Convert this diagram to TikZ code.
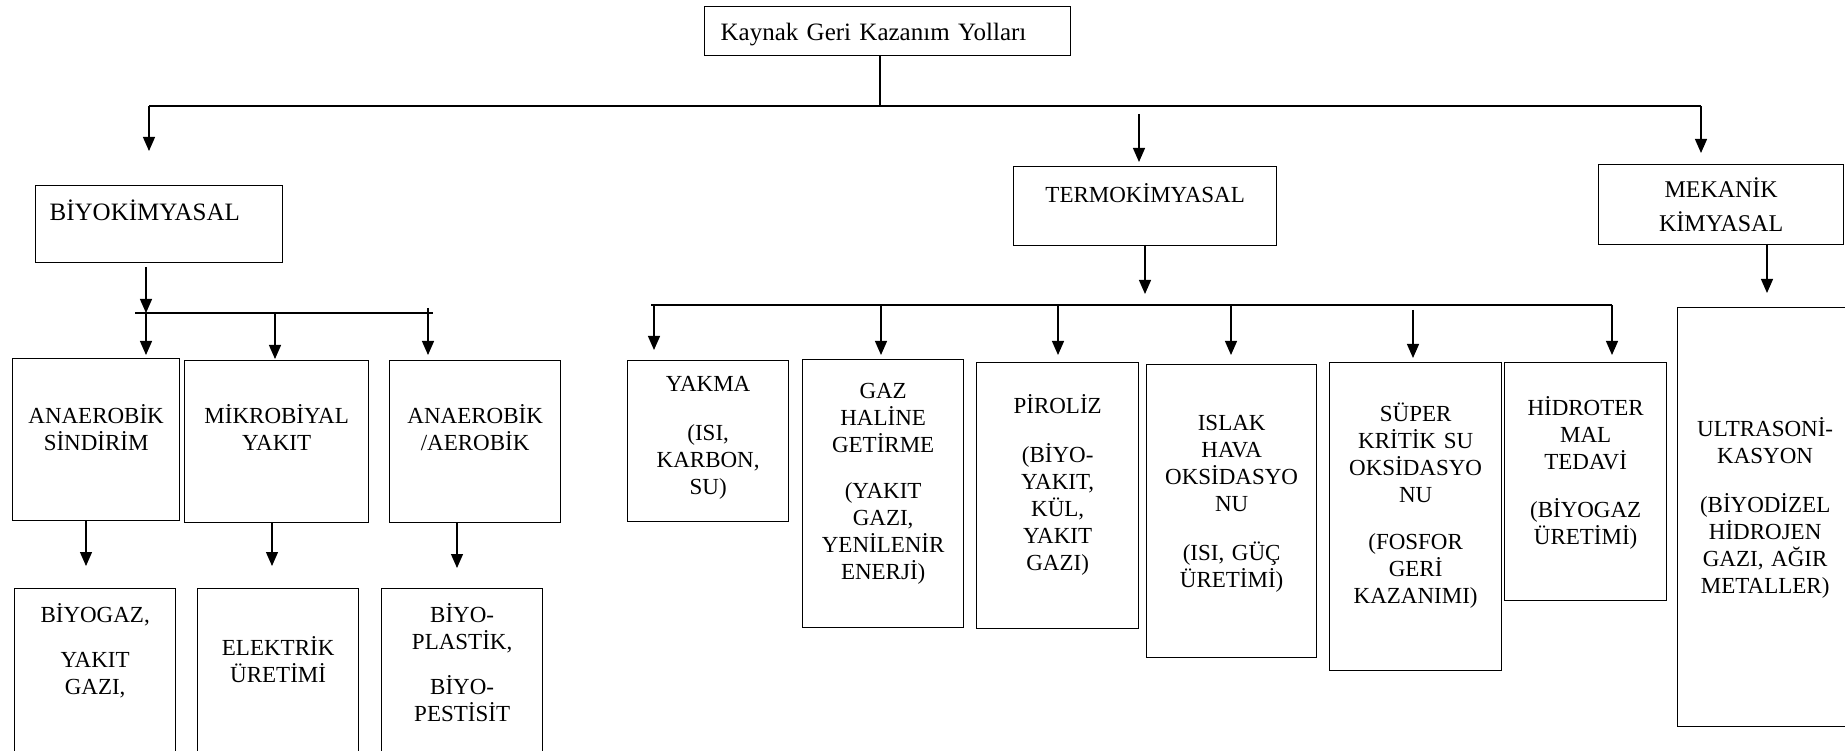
\documentclass[tikz,border=0pt]{standalone}
\usepackage{fontspec}
\setmainfont{Liberation Serif}
\usetikzlibrary{arrows.meta}

\begin{document}
\begin{tikzpicture}[x=1pt, y=-1pt,
    kutu/.style n args={3}{draw, line width=1.3pt, anchor=north west, inner sep=0pt,
        align=center, text width=#1pt, text height=#2pt, text depth=#3pt,
        font=\fontsize{23}{27}\selectfont},
    pil/.style={-{Triangle[width=12pt,length=14pt]}, line width=1.2pt},
    hat/.style={line width=1.2pt}]
        \useasboundingbox (0,0) rectangle (1845,751);
        \clip (0,0) rectangle (1845,751);

        % ust kutu
        \node[kutu={334}{34}{15}, inner xsep=16pt, align=left, font=\fontsize{25}{29}\selectfont]
            (baslik) at (704,6) {Kaynak Geri Kazanım Yolları};

        % ana dallar
        \node[kutu={219}{35}{42}, inner xsep=14pt, align=left, font=\fontsize{25}{29}\selectfont]
            (biyo) at (35,185) {BİYOKİMYASAL};
        \node[kutu={263}{36}{43}] (termo) at (1013,166) {TERMOKİMYASAL};
        \node[kutu={245}{33}{47}, font=\fontsize{24}{27}\selectfont]
            (mek) at (1598,164) {MEKANİK\\[7pt]KİMYASAL};

        % biyokimyasal yollar
        \node[kutu={167}{65}{97}] (anaer) at (12,358) {ANAEROBİK\\SİNDİRİM};
        \node[kutu={184}{63}{99}] (mikro) at (184,360) {MİKROBİYAL\\YAKIT};
        \node[kutu={171}{63}{99}] (aero) at (389,360) {ANAEROBİK\\/AEROBİK};

        \node[kutu={161}{34}{138}] (biyogaz) at (14,588) {BİYOGAZ,\\[18pt]YAKIT\\GAZI,};
        \node[kutu={161}{67}{105}] (elektrik) at (197,588) {ELEKTRİK\\ÜRETİMİ};
        \node[kutu={161}{34}{138}] (plastik) at (381,588) {BİYO-\\PLASTİK,\\[18pt]BİYO-\\PESTİSİT};

        % termokimyasal yollar
        \node[kutu={161}{31}{130}] (yakma) at (627,360) {YAKMA\\[22pt](ISI,\\KARBON,\\SU)};
        \node[kutu={161}{39}{229}] (gaz) at (802,359)
            {GAZ\\HALİNE\\GETİRME\\[19pt](YAKIT\\GAZI,\\YENİLENİR\\ENERJİ)};
        \node[kutu={162}{51}{215}] (piroliz) at (976,362)
            {PİROLİZ\\[22pt](BİYO-\\YAKIT,\\KÜL,\\YAKIT\\GAZI)};
        \node[kutu={170}{66}{227}] (islak) at (1146,364)
            {ISLAK\\HAVA\\OKSİDASYO\\NU\\[22pt](ISI, GÜÇ\\ÜRETİMİ)};
        \node[kutu={172}{59}{249}] (super) at (1329,362)
            {SÜPER\\KRİTİK SU\\OKSİDASYO\\NU\\[20pt](FOSFOR\\GERİ\\KAZANIMI)};
        \node[kutu={162}{53}{185}] (hidro) at (1504,362)
            {HİDROTER\\MAL\\TEDAVİ\\[21pt](BİYOGAZ\\ÜRETİMİ)};

        % mekanik kimyasal
        \node[kutu={175}{129}{290}] (ultra) at (1677,307)
            {ULTRASONİ-\\KASYON\\[22pt](BİYODİZEL\\HİDROJEN\\GAZI, AĞIR\\METALLER)};

        % ana hat
        \coordinate (b0) at (880,106);
        \coordinate (b1) at (149,106);
        \coordinate (b2) at (1139,114);
        \coordinate (b3) at (1701,106);
        \draw[hat] (b1) -- (b3);
        \draw[hat] (baslik.south -| b0) -- (b0);
        \draw[pil, shorten >=34pt] (b1) -- (b1 |- biyo.north);
        \draw[pil, shorten >=4pt] (b2) -- (b2 |- termo.north);
        \draw[pil, shorten >=11pt] (b3) -- (b3 |- mek.north);

        % biyokimyasal hat
        \coordinate (s0) at (146,267);
        \coordinate (s1) at (146,313);
        \coordinate (s2) at (275,313);
        \coordinate (s3) at (428,308);
        \draw[pil] (s0) -- (s1);
        \draw[hat] (135,313) -- (433,313);
        \draw[pil, shorten >=3pt] (s1) -- (s1 |- anaer.north);
        \draw[pil, shorten >=1pt] (s2) -- (s2 |- mikro.north);
        \draw[pil, shorten >=5pt] (s3) -- (s3 |- aero.north);

        \coordinate (u1) at (86,520);
        \coordinate (u2) at (272,522);
        \coordinate (u3) at (457,522);
        \draw[pil, shorten >=22pt] (u1) -- (u1 |- biyogaz.north);
        \draw[pil, shorten >=22pt] (u2) -- (u2 |- elektrik.north);
        \draw[pil, shorten >=20pt] (u3) -- (u3 |- plastik.north);

        % termokimyasal hat
        \coordinate (t0) at (1145,245);
        \coordinate (t1) at (654,305);
        \coordinate (t2) at (881,305);
        \coordinate (t3) at (1058,305);
        \coordinate (t4) at (1231,305);
        \coordinate (t5) at (1413,310);
        \coordinate (t6) at (1612,305);
        \draw[pil, shorten >=11pt] (t0) -- (t0 |- t1);
        \draw[hat] (651,305) -- (t6);
        \draw[pil, shorten >=10pt] (t1) -- (t1 |- yakma.north);
        \draw[pil, shorten >=4pt] (t2) -- (t2 |- gaz.north);
        \draw[pil, shorten >=7pt] (t3) -- (t3 |- piroliz.north);
        \draw[pil, shorten >=9pt] (t4) -- (t4 |- islak.north);
        \draw[pil, shorten >=4pt] (t5) -- (t5 |- super.north);
        \draw[pil, shorten >=7pt] (t6) -- (t6 |- hidro.north);

        % mekanik hat
        \coordinate (m0) at (1767,244);
        \draw[pil, shorten >=14pt] (m0) -- (m0 |- ultra.north);
\end{tikzpicture}
\end{document}
